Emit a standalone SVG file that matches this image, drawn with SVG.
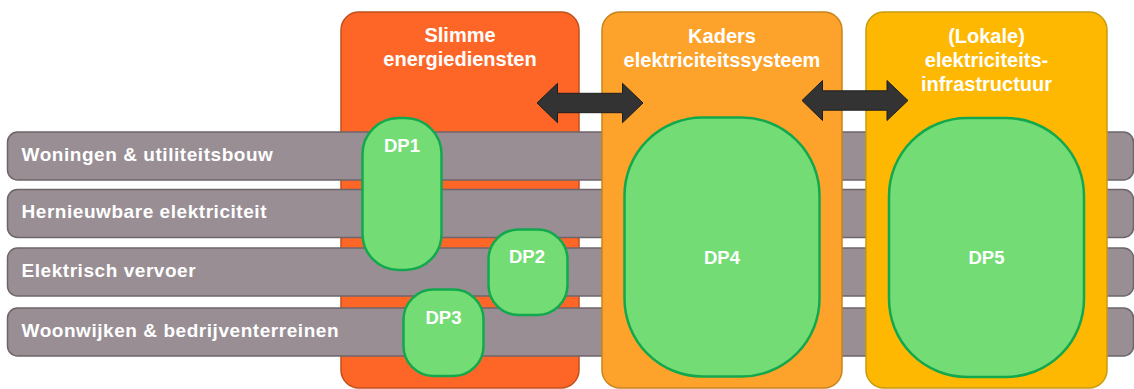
<svg xmlns="http://www.w3.org/2000/svg" width="1134" height="389" viewBox="0 0 1134 389">
<style>
.title{font-family:"Liberation Sans",Arial,sans-serif;font-weight:bold;font-size:20px;fill:#ffffff;text-anchor:middle}
.bar{fill:#988e94;stroke:#6d6569;stroke-width:1.5}
.barlbl{font-family:"Liberation Sans",Arial,sans-serif;font-weight:bold;font-size:19px;letter-spacing:0.55px;fill:#ffffff}
.dp{fill:#74dc74;stroke:#12a84d;stroke-width:2.5}
.dplbl{font-family:"Liberation Sans",Arial,sans-serif;font-weight:bold;font-size:18.5px;fill:#ffffff;text-anchor:middle}
.arrow{fill:#333333;stroke:#1e1e1e;stroke-width:1}
</style>
<rect width="1134" height="389" fill="#ffffff"/>
<g id="col-slimme">
<rect x="341" y="12" width="238" height="376" rx="18" fill="#fe6628" stroke="#c0501c" stroke-width="1.5"/>
<text class="title" x="460" y="42">Slimme</text>
<text class="title" x="460" y="66">energiediensten</text>
</g>
<g id="bars">
<g id="bar-woningen">
<rect class="bar" x="7.5" y="132" width="1126" height="48" rx="10"/>
<text class="barlbl" x="21.5" y="160.5">Woningen &amp; utiliteitsbouw</text>
</g>
<g id="bar-hernieuwbaar">
<rect class="bar" x="7.5" y="189.5" width="1126" height="48" rx="10"/>
<text class="barlbl" x="21.5" y="218">Hernieuwbare elektriciteit</text>
</g>
<g id="bar-vervoer">
<rect class="bar" x="7.5" y="248" width="1126" height="48" rx="10"/>
<text class="barlbl" x="21.5" y="276.5">Elektrisch vervoer</text>
</g>
<g id="bar-woonwijken">
<rect class="bar" x="7.5" y="308" width="1126" height="48" rx="10"/>
<text class="barlbl" x="21.5" y="336.5">Woonwijken &amp; bedrijventerreinen</text>
</g>
</g>
<g id="col-kaders">
<rect x="602" y="12" width="240" height="376" rx="18" fill="#fda22a" stroke="#c8841e" stroke-width="1.5"/>
<text class="title" x="722" y="42.5">Kaders</text>
<text class="title" x="722" y="67">elektriciteitssysteem</text>
</g>
<g id="col-infra">
<rect x="866" y="12" width="241" height="376" rx="18" fill="#feb802" stroke="#c89a10" stroke-width="1.5"/>
<text class="title" x="986.5" y="42.5">(Lokale)</text>
<text class="title" x="986.5" y="67">elektriciteits-</text>
<text class="title" x="986.5" y="91">infrastructuur</text>
</g>
<g id="connectors">
<polygon class="arrow" points="537,103 557.5,83.3 557.5,93.3 622.5,93.3 622.5,83.3 643,103 622.5,122.7 622.5,112.7 557.5,112.7 557.5,122.7"/>
<polygon class="arrow" points="802,100.5 822.5,80.5 822.5,90.8 887,90.8 887,80.5 908,100.5 887,120.5 887,110.2 822.5,110.2 822.5,120.5"/>
</g>
<g id="dp1">
<rect class="dp" x="362.5" y="118" width="79" height="152" rx="36"/>
<text class="dplbl" x="402" y="151.5">DP1</text>
</g>
<g id="dp2">
<rect class="dp" x="488.5" y="229.5" width="79" height="85.5" rx="30"/>
<text class="dplbl" x="527" y="263.3">DP2</text>
</g>
<g id="dp3">
<rect class="dp" x="403.5" y="289.5" width="80" height="86.5" rx="30"/>
<text class="dplbl" x="443.5" y="324">DP3</text>
</g>
<g id="dp4">
<rect class="dp" x="624.5" y="117.5" width="195" height="259" rx="78"/>
<text class="dplbl" x="722" y="263.5">DP4</text>
</g>
<g id="dp5">
<rect class="dp" x="889" y="118" width="195" height="259" rx="78"/>
<text class="dplbl" x="986.5" y="264">DP5</text>
</g>
</svg>
